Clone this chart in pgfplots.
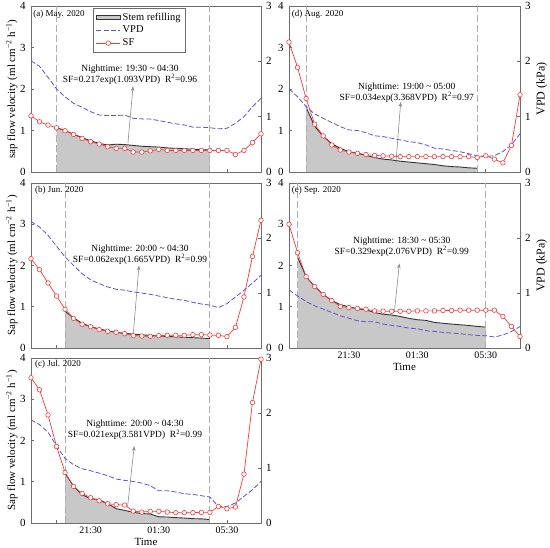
\documentclass[border=0pt]{standalone}
\usepackage{fontspec}
\setmainfont{Liberation Serif}
\usepackage{pgfplots}
\usepackage{pgfplotstable}
\pgfplotsset{compat=1.18}
\usetikzlibrary{arrows.meta}

\definecolor{vpdcol}{RGB}{96,84,196}
\definecolor{sfred}{RGB}{245,60,60}
\definecolor{fillgray}{RGB}{200,200,200}
\definecolor{dashgray}{RGB}{175,175,175}
\definecolor{framecol}{RGB}{110,110,110}
\definecolor{arrowgray}{RGB}{140,140,140}

% t sf vpd
\pgfplotstableread{
t sf vpd
0 1.355 2.01
0.5 1.21 1.91
1 1.13 1.71
1.5 1.066 1.50
2 0.994 1.36
2.5 0.906 1.24
3 0.81 1.17
3.5 0.73 1.09
4 0.673 1.03
4.5 0.61 1.02
5 0.57 1.02
5.5 0.57 1.03
6 0.48 0.97
6.5 0.48 0.96
7 0.51 0.956
7.5 0.545 0.93
8 0.52 0.90
8.5 0.52 0.87
9 0.52 0.85
9.5 0.52 0.81
10 0.52 0.81
10.5 0.52 0.80
11 0.52 0.78
11.5 0.52 0.79
12 0.42 0.88
12.5 0.52 1.00
13 0.71 1.18
13.5 0.92 1.33
}\dataA
\pgfplotstableread{
t f
1.5 1.07
2 1.00
2.5 0.91
3 0.83
3.5 0.75
4 0.69
4.5 0.65
5 0.67
5.5 0.66
6 0.64
6.5 0.62
7 0.61
7.5 0.60
8 0.58
8.5 0.57
9 0.56
9.5 0.55
10 0.54
10.5 0.53
}\fitA

\pgfplotstableread{
t sf vpd
0 2.166 2.30
0.5 1.90 2.20
1 1.576 2.05
1.5 1.26 1.85
2 0.937 1.655
2.5 0.72 1.50
3 0.574 1.35
3.5 0.517 1.24
4 0.444 1.17
4.5 0.404 1.11
5 0.38 1.067
5.5 0.347 1.05
6 0.30 1.02
6.5 0.29 1.00
7 0.283 0.976
7.5 0.30 0.945
8 0.307 0.915
8.5 0.307 0.885
9 0.307 0.867
9.5 0.323 0.83
10 0.323 0.80
10.5 0.315 0.78
11 0.307 0.733
11.5 0.275 0.806
12 0.50 0.927
12.5 1.236 1.05
13 2.22 1.18
13.5 3.095 1.32
}\dataB
\pgfplotstableread{
t f
2 0.89
2.5 0.73
3 0.60
3.5 0.52
4 0.46
4.5 0.42
5 0.38
5.5 0.355
6 0.335
6.5 0.32
7 0.305
7.5 0.29
8 0.28
8.5 0.27
9 0.26
9.5 0.25
10 0.24
10.5 0.23
}\fitB

\pgfplotstableread{
t sf vpd
0 3.52 1.875
0.5 3.23 1.79
1 2.62 1.65
1.5 1.855 1.40
2 1.226 1.17
2.5 0.887 1.06
3 0.718 0.986
3.5 0.613 0.95
4 0.54 0.907
4.5 0.468 0.86
5 0.444 0.80
5.5 0.435 0.774
6 0.29 0.756
6.5 0.266 0.726
7 0.282 0.678
7.5 0.282 0.587
8 0.266 0.587
8.5 0.25 0.563
9 0.25 0.532
9.5 0.25 0.52
10 0.258 0.496
10.5 0.258 0.472
11 0.40 0.30
11.5 0.347 0.30
12 0.387 0.363
12.5 1.185 0.484
13 2.92 0.605
13.5 3.97 0.756
}\dataC
\pgfplotstableread{
t f
2 1.21
2.5 0.89
3 0.685
3.5 0.59
4 0.565
4.5 0.47
5 0.347
5.5 0.306
6 0.258
6.5 0.23
7 0.218
7.5 0.15
8 0.145
8.5 0.13
9 0.12
9.5 0.105
10 0.10
10.5 0.085
}\fitC

\pgfplotstableread{
t sf vpd
0 3.13 1.50
0.5 2.52 1.36
1 1.77 1.18
1.5 1.15 1.05
2 0.87 0.97
2.5 0.65 0.895
3 0.53 0.82
3.5 0.48 0.76
4 0.45 0.75
4.5 0.42 0.71
5 0.40 0.655
5.5 0.39 0.64
6 0.38 0.61
6.5 0.37 0.58
7 0.37 0.55
7.5 0.37 0.53
8 0.37 0.49
8.5 0.37 0.43
9 0.37 0.415
9.5 0.37 0.39
10 0.37 0.366
10.5 0.37 0.33
11 0.35 0.294
11.5 0.39 0.28
12 0.31 0.294
12.5 0.22 0.37
13 0.64 0.49
13.5 1.86 0.69
}\dataD
\pgfplotstableread{
t f
1 1.56
1.5 1.10
2 0.86
2.5 0.68
3 0.57
3.5 0.49
4 0.45
4.5 0.40
5 0.35
5.5 0.31
6 0.29
6.5 0.26
7 0.24
7.5 0.22
8 0.20
8.5 0.18
9 0.15
9.5 0.13
10 0.12
10.5 0.10
11 0.09
}\fitD

\pgfplotstableread{
t sf vpd
0 3.00 1.056
0.5 2.31 0.947
1 1.73 0.845
1.5 1.49 0.766
2 1.30 0.706
2.5 1.15 0.646
3 1.006 0.585
3.5 0.98 0.543
4 0.96 0.495
4.5 0.94 0.477
5 0.90 0.477
5.5 0.893 0.435
6 0.89 0.41
6.5 0.89 0.392
7 0.89 0.362
7.5 0.90 0.35
8 0.90 0.314
8.5 0.90 0.302
9 0.91 0.284
9.5 0.91 0.272
10 0.917 0.26
10.5 0.917 0.241
11 0.917 0.229
11.5 0.917 0.223
12 0.917 0.20
12.5 0.765 0.235
13 0.523 0.30
13.5 0.28 0.39
}\dataE
\pgfplotstableread{
t f
0.5 2.20
1 1.73
1.5 1.49
2 1.30
2.5 1.15
3 1.05
3.5 1.00
4 0.95
4.5 0.925
5 0.86
5.5 0.82
6 0.80
6.5 0.765
7 0.72
7.5 0.685
8 0.67
8.5 0.62
9 0.60
9.5 0.58
10 0.563
10.5 0.547
11 0.523
11.5 0.507
}\fitE

\tikzset{
  sfplot/.style={sfred, line width=0.7bp, mark=*, mark size=2.3bp,
    mark options={fill=white, draw=sfred, solid, line width=0.6bp}},
  vpdplot/.style={vpdcol, line width=0.8bp, dash pattern=on 5bp off 2.2bp},
  fitplot/.style={black!80, line width=0.9bp},
  fillplot/.style={draw=none, fill=fillgray},
  nightline/.style={dashgray, line width=0.8bp, dash pattern=on 7bp off 3bp},
  annot/.style={align=center, font=\fontsize{9.5}{11}\selectfont, inner sep=0pt},
  plab/.style={anchor=west, font=\fontsize{9}{9}\selectfont, inner sep=0pt},
  arr/.style={arrowgray, line width=0.6bp, -{Stealth[length=5bp,width=3.5bp]}},
}

\pgfplotsset{
  base/.style={scale only axis, xmin=0, xmax=13.5,
    /pgf/number format/assume math mode=true,
    tick align=inside, major tick length=3bp, minor tick length=3bp,
    axis line style={framecol, line width=0.8bp},
    every tick/.style={framecol, line width=0.6bp},
    ticklabel style={font=\fontsize{11}{11}\selectfont},
  },
  sfaxis/.style={base, ymin=0, ymax=4, ytick={0,1,2,3,4},
    xtick={3.5,7.5,11.5}, minor xtick={1.5,5.5,9.5},
    xtick pos=bottom, ytick pos=left,
    xticklabels={21:30,01:30,05:30},
    yticklabel style={xshift=-2bp},
    xticklabel style={font=\fontsize{10}{10}\selectfont},
    ylabel style={at={(rel axis cs:-0.083,0.5)}, anchor=center, font=\fontsize{11}{11}\selectfont},
    xlabel style={at={(rel axis cs:0.5,-0.115)}, anchor=center, font=\fontsize{11}{11}\selectfont},
  },
  vpdaxis/.style={base, ymin=0, ymax=3, ytick={0,1,2,3},
    axis x line=none, axis y line*=right,
    yticklabel style={xshift=1.5bp},
    ylabel style={at={(rel axis cs:1.094,0.5)}, anchor=center, font=\fontsize{12}{12}\selectfont},
  },
  hidaxis/.style={scale only axis, xmin=0, xmax=13.5, ymin=0, ymax=4, hide axis},
}

\begin{document}
\begin{tikzpicture}
\useasboundingbox (0,0) rectangle (550bp,548bp);

% ================= (a) =================
\begin{axis}[sfaxis, at={(31bp,376bp)}, anchor=south west, width=230bp, height=166bp,
  xticklabels={}, ylabel={sap flow velocity (ml cm\textsuperscript{−2} h\textsuperscript{−1})}]
\addplot[fillplot] table[x=t,y=f]{\fitA} \closedcycle;
\addplot[fitplot] table[x=t,y=f]{\fitA};
\addplot[nightline] coordinates {(1.5,0) (1.5,4)};
\addplot[nightline] coordinates {(10.5,0) (10.5,4)};
\node[plab] at (rel axis cs:0.01,0.952) {(a) May. 2020};
\node[annot] at (axis cs:5.81,2.34) {Nighttime: 19:30 \textasciitilde{} 04:30\\SF=0.217exp(1.093VPD)\ \ R\textsuperscript{2}=0.96};
\draw[arr] (axis cs:5.69,0.70) -- (axis cs:5.99,2.07);
\end{axis}
\begin{axis}[vpdaxis, at={(31bp,376bp)}, anchor=south west, width=230bp, height=166bp]
\addplot[vpdplot] table[x=t,y=vpd]{\dataA};
\end{axis}
\begin{axis}[hidaxis, at={(31bp,376bp)}, anchor=south west, width=230bp, height=166bp,
  legend style={at={(0.27,0.988)}, anchor=north west, draw=framecol, fill=white, line width=0.6bp,
    font=\fontsize{10.5}{12}\selectfont, inner xsep=2.5bp, inner ysep=2.5bp, row sep=0.5bp, cells={anchor=west}},
  legend image code/.code={\draw[mark repeat=2,mark phase=2,#1] plot coordinates {(0bp,0bp) (12bp,0bp) (24bp,0bp)};}]
\addlegendimage{legend image code/.code={\draw[draw=black!80, fill=fillgray, line width=0.8bp] (0bp,-2bp) rectangle (24bp,2bp);}}
\addlegendentry{Stem refilling}
\addlegendimage{legend image code/.code={\draw[vpdplot] (0bp,0bp) -- (24bp,0bp);}}
\addlegendentry{VPD}
\addplot[sfplot] table[x=t,y=sf]{\dataA};
\addlegendentry{SF}
\end{axis}

% ================= (b) =================
\begin{axis}[sfaxis, at={(31bp,200bp)}, anchor=south west, width=230bp, height=165bp,
  xticklabels={}, ylabel={Sap flow velocity (ml cm\textsuperscript{−2} h\textsuperscript{−1})}]
\addplot[fillplot] table[x=t,y=f]{\fitB} \closedcycle;
\addplot[fitplot] table[x=t,y=f]{\fitB};
\addplot[nightline] coordinates {(2,0) (2,4)};
\addplot[nightline] coordinates {(10.5,0) (10.5,4)};
\node[plab] at (rel axis cs:0.017,0.956) {(b) Jun. 2020};
\node[annot] at (axis cs:6.4,2.27) {Nighttime: 20:00 \textasciitilde{} 04:30\\SF=0.062exp(1.665VPD)\ \ R\textsuperscript{2}=0.99};
\draw[arr] (axis cs:6.0,0.33) -- (axis cs:6.34,2.0);
\end{axis}
\begin{axis}[vpdaxis, at={(31bp,200bp)}, anchor=south west, width=230bp, height=165bp]
\addplot[vpdplot] table[x=t,y=vpd]{\dataB};
\end{axis}
\begin{axis}[hidaxis, at={(31bp,200bp)}, anchor=south west, width=230bp, height=165bp]
\addplot[sfplot] table[x=t,y=sf]{\dataB};
\end{axis}

% ================= (c) =================
\begin{axis}[sfaxis, at={(31bp,25bp)}, anchor=south west, width=230bp, height=165bp,
  xlabel={Time}, ylabel={Sap flow velocity (ml cm\textsuperscript{−2} h\textsuperscript{−1})}]
\addplot[fillplot] table[x=t,y=f]{\fitC} \closedcycle;
\addplot[fitplot] table[x=t,y=f]{\fitC};
\addplot[nightline] coordinates {(2,0) (2,4)};
\addplot[nightline] coordinates {(10.5,0) (10.5,4)};
\node[plab] at (rel axis cs:0.017,0.96) {(c) Jul. 2020};
\node[annot] at (axis cs:6.1,2.25) {Nighttime: 20:00 \textasciitilde{} 04:30\\SF=0.021exp(3.581VPD)\ \ R\textsuperscript{2}=0.99};
\draw[arr] (axis cs:5.67,0.40) -- (axis cs:6.06,1.87);
\end{axis}
\begin{axis}[vpdaxis, at={(31bp,25bp)}, anchor=south west, width=230bp, height=165bp]
\addplot[vpdplot] table[x=t,y=vpd]{\dataC};
\end{axis}
\begin{axis}[hidaxis, at={(31bp,25bp)}, anchor=south west, width=230bp, height=165bp]
\addplot[sfplot] table[x=t,y=sf]{\dataC};
\end{axis}

% ================= (d) =================
\begin{axis}[sfaxis, at={(289bp,376bp)}, anchor=south west, width=231bp, height=166bp,
  xticklabels={}]
\addplot[fillplot] table[x=t,y=f]{\fitD} \closedcycle;
\addplot[fitplot] table[x=t,y=f]{\fitD};
\addplot[nightline] coordinates {(1,0) (1,4)};
\addplot[nightline] coordinates {(11,0) (11,4)};
\node[plab] at (rel axis cs:0.012,0.947) {(d) Aug. 2020};
\node[annot] at (axis cs:6.88,1.91) {Nighttime: 19:00 \textasciitilde{} 05:00\\SF=0.034exp(3.368VPD)\ \ R\textsuperscript{2}=0.97};
\draw[arr] (axis cs:6.25,0.23) -- (axis cs:6.53,1.69);
\end{axis}
\begin{axis}[vpdaxis, at={(289bp,376bp)}, anchor=south west, width=231bp, height=166bp,
  ylabel={VPD (kPa)}]
\addplot[vpdplot] table[x=t,y=vpd]{\dataD};
\end{axis}
\begin{axis}[hidaxis, at={(289bp,376bp)}, anchor=south west, width=231bp, height=166bp]
\addplot[sfplot] table[x=t,y=sf]{\dataD};
\end{axis}

% ================= (e) =================
\begin{axis}[sfaxis, at={(289bp,200bp)}, anchor=south west, width=231bp, height=165bp,
  xlabel={Time}]
\addplot[fillplot] table[x=t,y=f]{\fitE} \closedcycle;
\addplot[fitplot] table[x=t,y=f]{\fitE};
\addplot[nightline] coordinates {(0.5,0) (0.5,4)};
\addplot[nightline] coordinates {(11.5,0) (11.5,4)};
\node[plab] at (rel axis cs:0.012,0.957) {(e) Sep. 2020};
\node[annot] at (axis cs:6.59,2.45) {Nighttime: 18:30 \textasciitilde{} 05:30\\SF=0.329exp(2.076VPD)\ \ R\textsuperscript{2}=0.99};
\draw[arr] (axis cs:6.16,0.88) -- (axis cs:6.45,2.05);
\end{axis}
\begin{axis}[vpdaxis, at={(289bp,200bp)}, anchor=south west, width=231bp, height=165bp,
  ylabel={VPD (kPa)}]
\addplot[vpdplot] table[x=t,y=vpd]{\dataE};
\end{axis}
\begin{axis}[hidaxis, at={(289bp,200bp)}, anchor=south west, width=231bp, height=165bp]
\addplot[sfplot] table[x=t,y=sf]{\dataE};
\end{axis}

\end{tikzpicture}
\end{document}
